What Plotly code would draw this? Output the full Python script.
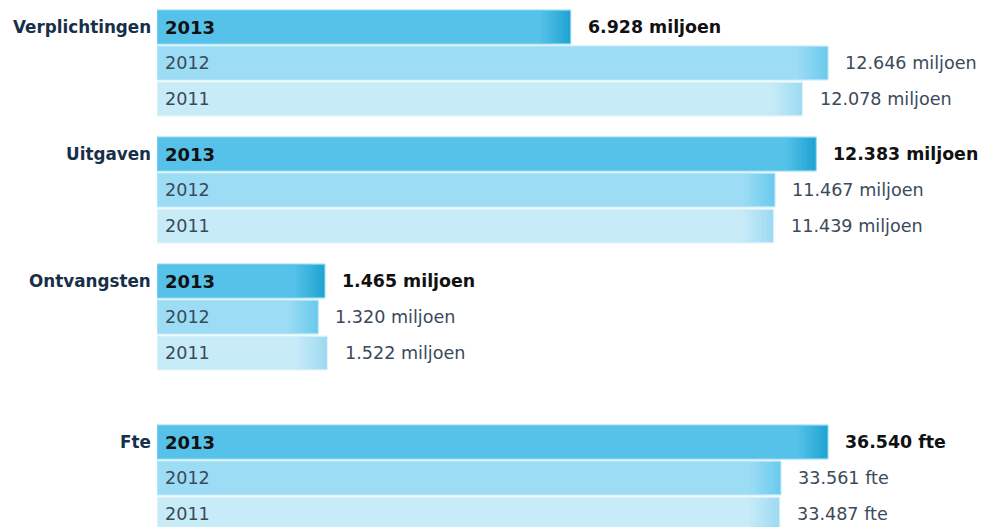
import plotly.graph_objects as go

# ---------------- data ----------------
groups = ["Verplichtingen", "Uitgaven", "Ontvangsten", "Fte"]
years = ["2013", "2012", "2011"]
verplichtingen = [6928, 12646, 12078]
uitgaven = [12383, 11467, 11439]
ontvangsten = [1465, 1320, 1522]
fte = [36540, 33561, 33487]
units = ["miljoen", "miljoen", "miljoen", "fte"]
values = [verplichtingen, uitgaven, ontvangsten, fte]

# ---------------- style ----------------
PAGE = 8  # default page body margin
W, H = 987 - PAGE, 527 - PAGE
ML = 157 - PAGE
plot_w = W - ML
main_colors = ["#56c2e9", "#9cdcf4", "#c8ebf8"]
end_colors = ["#1fa3d1", "#6acaed", "#9cdaf2"]
edge_colors = ["#8fd6f1", "#c0e9f8", "#e0f4fb"]
font = "DejaVu Sans"

# axis ranges (miljoen axis and fte axis)
x1_range = [-2267, -2267 + plot_w / 0.045]
x2_range = [-5982, -5982 + plot_w / 0.01578]

# vertical layout in "row" units (36 px per row)
row_px = 36
bar_w = 34 / row_px
gap = 0.528
extra_gap = 0.944
y_top = -(27 - PAGE) / row_px
y_range = [y_top + H / row_px, y_top]


def group_offset(g):
    off = g * (3 + gap)
    if groups[g] == "Fte":
        off += extra_gap
    return off


def hex2rgb(h):
    h = h.lstrip("#")
    return [int(h[i:i + 2], 16) for i in (0, 2, 4)]


def mix(c1, c2, t):
    a, b = hex2rgb(c1), hex2rgb(c2)
    return "rgb(%d,%d,%d)" % tuple(round(a[i] + (b[i] - a[i]) * t) for i in range(3))


def fmt(v):
    return f"{v:,}".replace(",", ".")


fig = go.Figure()
annotations = []
N = 12
grad_px = 30

for g, name in enumerate(groups):
    xa = "x2" if units[g] == "fte" else "x"
    rng = x2_range if xa == "x2" else x1_range
    upp = (rng[1] - rng[0]) / plot_w  # units per pixel
    base = rng[0]
    off = group_offset(g)
    for i, yr in enumerate(years):
        v = values[g][i]
        pos = off + i
        fig.add_trace(go.Bar(
            x=[v - base], y=[pos], base=[base], orientation="h",
            width=bar_w, xaxis=xa, yaxis="y",
            marker=dict(color=main_colors[i], line=dict(color=edge_colors[i], width=1)),
            hoverinfo="skip", showlegend=False))
        gw = grad_px * upp
        for k in range(N):
            t = (k + 0.5) / N
            seg_base = v - gw + k * gw / N - upp
            fig.add_trace(go.Bar(
                x=[gw / N + upp * 0.3], y=[pos], base=[seg_base], orientation="h",
                width=bar_w - 2 / row_px, xaxis=xa, yaxis="y",
                marker=dict(color=mix(main_colors[i], end_colors[i], t), line=dict(width=0)),
                hoverinfo="skip", showlegend=False))
        bold = i == 0
        # year label inside bar
        annotations.append(dict(
            xref="paper", yref="y", x=0, y=pos, xanchor="left", yanchor="middle",
            xshift=6, showarrow=False,
            text=f"<b>{yr}</b>" if bold else yr,
            font=dict(family=font, size=18 if bold else 17.6,
                      color="#111111" if bold else "#3b4a5a")))
        # value label
        txt = f"{fmt(v)} {units[g]}"
        annotations.append(dict(
            xref=xa, yref="y", x=v, y=pos, xanchor="left", yanchor="middle",
            xshift=15, showarrow=False,
            text=f"<b>{txt}</b>" if bold else txt,
            font=dict(family=font, size=17.4 if bold else 17.6,
                      color="#111111" if bold else "#3b4a5a")))
    # group label
    annotations.append(dict(
        xref="paper", yref="y", x=0, y=off, xanchor="right", yanchor="middle",
        xshift=-4, showarrow=False, text=f"<b>{name}</b>",
        font=dict(family=font, size=16.8, color="#172f48")))

fig.update_layout(
    width=W, height=H,
    margin=dict(l=ML, r=0, t=0, b=0),
    paper_bgcolor="white", plot_bgcolor="white",
    barmode="overlay",
    xaxis=dict(range=x1_range, visible=False, fixedrange=True),
    xaxis2=dict(range=x2_range, visible=False, overlaying="x", fixedrange=True),
    yaxis=dict(range=y_range, visible=False, fixedrange=True),
    annotations=annotations,
    showlegend=False,
)

fig.write_html("out.html")
